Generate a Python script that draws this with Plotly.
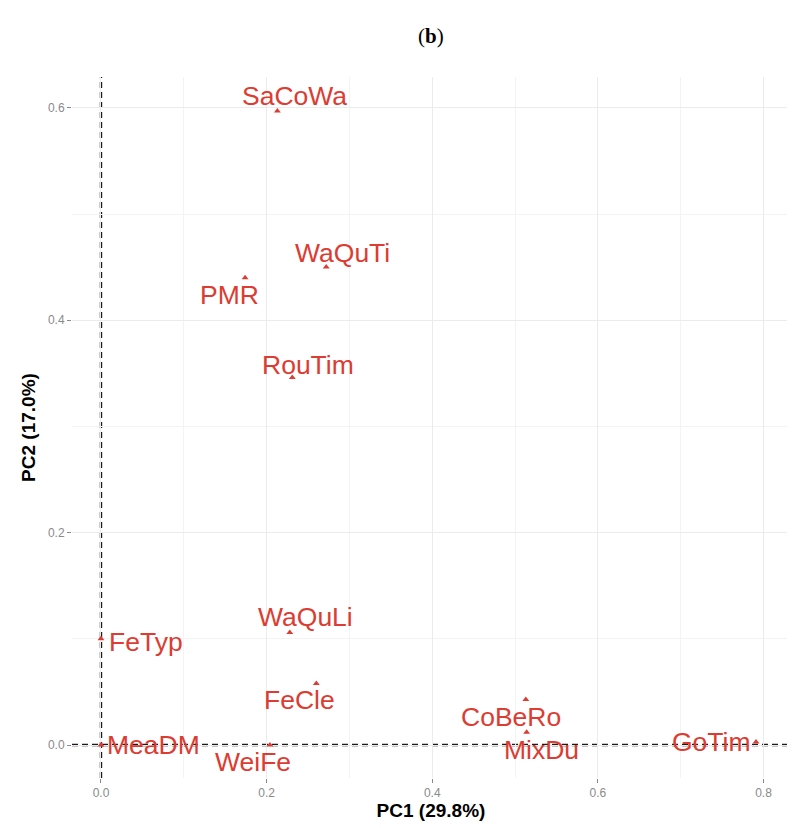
import plotly.graph_objects as go

# ---- data ----
labels = ["SaCoWa", "WaQuTi", "PMR", "RouTim", "WaQuLi", "FeTyp",
          "FeCle", "MeaDM", "WeiFe", "CoBeRo", "MixDu", "GoTim"]
pc1 = [0.213, 0.272, 0.174, 0.231, 0.228, 0.000,
       0.260, 0.000, 0.204, 0.513, 0.514, 0.791]
pc2 = [0.597, 0.450, 0.440, 0.346, 0.106, 0.100,
       0.058, 0.000, 0.000, 0.043, 0.012, 0.003]
x_ticks = [0.0, 0.2, 0.4, 0.6, 0.8]
y_ticks = [0.0, 0.2, 0.4, 0.6]
x_title = "PC1 (29.8%)"
y_title = "PC2 (17.0%)"

# label offsets (pixels, repel-like placement)
label_dx = [17, 16, -16, 16, 16, 45, -17, 53, -17, -15, 15, -45]
label_dy = [15, 14, -17, 13, 15, -3, -17, 0, -17, -18, -18, 0]

RED = "#DC3C32"
FONT = "Liberation Sans, Arial, sans-serif"

fig = go.Figure()
fig.add_trace(go.Scatter(
    x=pc1, y=pc2, mode="markers",
    marker=dict(symbol="triangle-up", size=6, color=RED),
    hoverinfo="text", text=labels, showlegend=False,
))

for lab, x, y, dx, dy in zip(labels, pc1, pc2, label_dx, label_dy):
    fig.add_annotation(x=x, y=y, xref="x", yref="y", text=lab,
                       showarrow=False, xshift=dx, yshift=dy,
                       font=dict(family=FONT, size=26.5, color=RED))

# dashed reference lines
DASH = dict(color="#1a1a1a", width=2.4, dash="6px,4px")
fig.add_shape(type="line", xref="x", yref="paper", x0=0, x1=0, y0=0, y1=1,
              line=DASH, layer="below")
fig.add_shape(type="line", xref="paper", yref="y", x0=0, x1=1, y0=0, y1=0,
              line=DASH, layer="below")

# panel title
fig.add_annotation(x=0.5, y=1, xref="paper", yref="paper", yshift=41,
                   text="(<b>b</b>)", showarrow=False,
                   font=dict(family="Liberation Serif, Times New Roman, serif",
                             size=21, color="black"),
                   xanchor="center", yanchor="middle")

axis_common = dict(
    showgrid=True, gridcolor="#ebebeb", gridwidth=1.2,
    zeroline=False, showline=False, automargin=False,
    ticks="outside", ticklen=4, tickwidth=1, tickcolor="#8a8a8a",
    tickfont=dict(family=FONT, size=12, color="#8a8a8a"),
    tickformat=".1f",
)

fig.update_xaxes(
    range=[-0.035, 0.832], tickvals=x_ticks, **axis_common,
    minor=dict(dtick=0.1, tick0=0, showgrid=True, gridcolor="#f3f3f3", gridwidth=1, ticks=""),
    title=dict(text=f"<b>{x_title}</b>", standoff=4,
               font=dict(family=FONT, size=19, color="black")),
)
fig.update_yaxes(
    range=[-0.031, 0.629], tickvals=y_ticks, **axis_common,
    minor=dict(dtick=0.1, tick0=0, showgrid=True, gridcolor="#f3f3f3", gridwidth=1, ticks=""),
    title=dict(text=f"<b>{y_title}</b>", standoff=7,
               font=dict(family=FONT, size=19, color="black")),
)

# the page body adds an 8px margin, so the figure is sized to fit the window
fig.update_layout(
    width=787, height=820,
    margin=dict(l=64, r=5, t=69, b=50),
    paper_bgcolor="white", plot_bgcolor="white",
    font=dict(family=FONT),
)

fig.write_html("out.html")
